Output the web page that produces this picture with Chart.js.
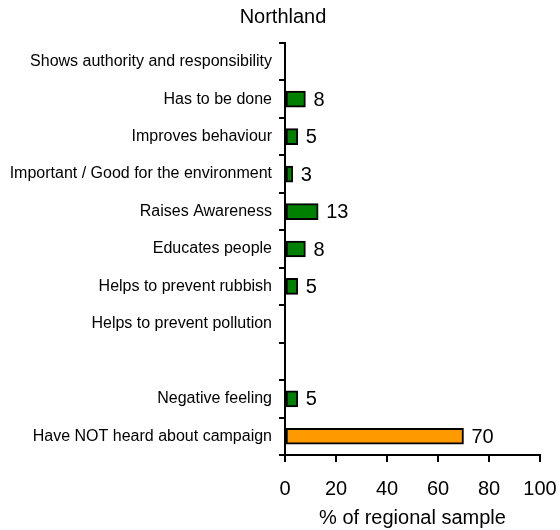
<!DOCTYPE html>
<html>
<head>
<meta charset="utf-8">
<script src="https://cdn.jsdelivr.net/npm/chart.js"></script>
<style>
    html, body { margin: 0; padding: 0; background: #ffffff; }
    #wrap { width: 560px; height: 530px; }
</style>
</head>
<body>
<div id="wrap"><canvas id="chart" width="560" height="530"></canvas></div>
<script>
const categories = [
    'Shows authority and responsibility',
    'Has to be done',
    'Improves behaviour',
    'Important / Good for the environment',
    'Raises Awareness',
    'Educates people',
    'Helps to prevent rubbish',
    'Helps to prevent pollution',
    '',
    'Negative feeling',
    'Have NOT heard about campaign'
];
const values = [null, 8, 5, 3, 13, 8, 5, null, null, 5, 70];
const barColors = ['#008000', '#008000', '#008000', '#008000', '#008000', '#008000', '#008000', '#008000', '#008000', '#008000', '#ff9900'];
const xTicks = [0, 20, 40, 60, 80, 100];

const FONT = 'Arial, "Liberation Sans", sans-serif';

// numbers to the right of each bar
const valueLabels = {
    id: 'valueLabels',
    afterDatasetsDraw(chart) {
        const ctx = chart.ctx;
        const meta = chart.getDatasetMeta(0);
        ctx.save();
        ctx.font = '20px ' + FONT;
        ctx.fillStyle = '#000000';
        ctx.textAlign = 'left';
        ctx.textBaseline = 'middle';
        meta.data.forEach((bar, i) => {
            const v = values[i];
            if (v === null || v === undefined) return;
            ctx.fillText(String(v), bar.x + 8, bar.y + 1);
        });
        ctx.restore();
    }
};

new Chart(document.getElementById('chart').getContext('2d'), {
    type: 'bar',
    data: {
        labels: categories,
        datasets: [{
            data: values,
            backgroundColor: barColors,
            borderColor: '#000000',
            borderWidth: 2,
            borderSkipped: false,
            barThickness: 16
        }]
    },
    plugins: [valueLabels],
    options: {
        indexAxis: 'y',
        responsive: false,
        animation: false,
        layout: { padding: { left: 6, right: 0, top: 0, bottom: 0 } },
        plugins: {
            legend: { display: false },
            tooltip: { enabled: false },
            title: {
                display: true,
                text: 'Northland',
                color: '#000000',
                font: { family: FONT, size: 20, weight: 'normal' },
                padding: { top: 5, bottom: 14 }
            }
        },
        scales: {
            y: {
                grid: {
                    offset: true,
                    drawOnChartArea: false,
                    color: '#000000',
                    lineWidth: 2,
                    tickLength: 6
                },
                border: { display: true, color: '#000000', width: 2 },
                ticks: {
                    color: '#000000',
                    font: { family: FONT, size: 16 },
                    padding: 7,
                    autoSkip: false
                },
                afterFit(scale) { scale.width = 279; }
            },
            x: {
                min: 0,
                max: 100,
                afterBuildTicks(scale) { scale.ticks = xTicks.map(v => ({ value: v })); },
                grid: {
                    drawOnChartArea: false,
                    color: '#000000',
                    lineWidth: 2,
                    tickLength: 7
                },
                border: { display: true, color: '#000000', width: 2 },
                ticks: {
                    color: '#000000',
                    font: { family: FONT, size: 20 },
                    padding: 15,
                    maxRotation: 0
                },
                title: {
                    display: true,
                    text: '% of regional sample',
                    color: '#000000',
                    font: { family: FONT, size: 20 },
                    padding: { top: 4, bottom: 0 }
                },
                afterFit(scale) {
                    scale.height = 75;
                    scale.paddingLeft = 0;
                    scale.paddingRight = 20;
                }
            }
        }
    }
});
</script>
</body>
</html>
